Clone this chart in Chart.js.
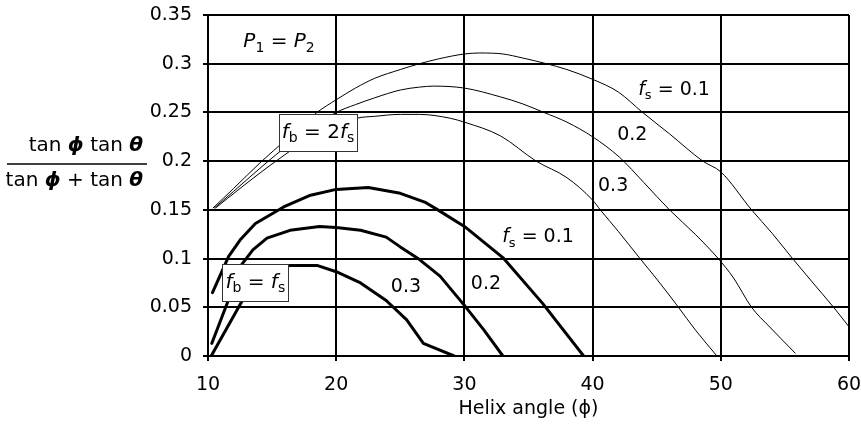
<!DOCTYPE html>
<html>
<head>
<meta charset="utf-8">
<script src="https://cdn.jsdelivr.net/npm/chart.js@4"></script>
<style>
  html, body { margin: 0; padding: 0; background: #fff; }
  canvas { display: block; }
</style>
</head>
<body>
<canvas id="chart" width="861" height="426"></canvas>
<script>
// Axis ranges and ticks
const xTicks = [10, 20, 30, 40, 50, 60];
const yTicks = [0, 0.05, 0.1, 0.15, 0.2, 0.25, 0.3, 0.35];

// fb = 2fs (thin curves)
const thin01X = [10.4, 12, 14.2, 16, 18.5, 20, 21.5, 23, 25, 26.5, 28, 30, 31.2, 33, 34.5, 36.4, 38, 40, 42, 43.9, 46, 48.6, 50, 52.4, 54, 55.6, 57, 58.8, 60];
const thin01Y = [0.152, 0.172, 0.2, 0.221, 0.25, 0.263, 0.275, 0.285, 0.294, 0.3, 0.305, 0.31, 0.311, 0.31, 0.306, 0.3, 0.294, 0.284, 0.271, 0.25, 0.228, 0.2, 0.189, 0.15, 0.126, 0.1, 0.078, 0.05, 0.03];

const thin02X = [10.5, 12, 14.7, 17, 20, 21.5, 23, 25, 26.5, 27.6, 30, 32.8, 34.5, 36.2, 38, 40, 42.1, 44, 46, 48, 49.8, 51, 52.4, 53.8, 55.8];
const thin02Y = [0.152, 0.169, 0.2, 0.224, 0.25, 0.258, 0.265, 0.273, 0.276, 0.277, 0.275, 0.266, 0.259, 0.25, 0.24, 0.225, 0.204, 0.178, 0.15, 0.125, 0.1, 0.08, 0.05, 0.03, 0.003];

const thin03X = [10.6, 12.5, 15.3, 18, 21.6, 23, 25, 26.5, 28.9, 30, 32.8, 35.6, 38, 40, 40.6, 42, 43.7, 45, 46.7, 48, 49.7];
const thin03Y = [0.152, 0.172, 0.2, 0.224, 0.244, 0.246, 0.248, 0.248, 0.244, 0.24, 0.226, 0.2, 0.183, 0.16, 0.15, 0.128, 0.1, 0.079, 0.05, 0.027, 0];

// fb = fs (thick curves)
const thick01X = [10.35, 11.6, 12.5, 13.7, 15.9, 18, 20, 22.5, 25, 26.9, 27.8, 30, 33, 36.1, 39.3];
const thick01Y = [0.065, 0.102, 0.119, 0.136, 0.153, 0.165, 0.171, 0.173, 0.167, 0.158, 0.151, 0.133, 0.101, 0.054, 0];

const thick02X = [10.3, 11.7, 12.4, 13.5, 14.6, 16.4, 18.7, 20, 21.9, 23.9, 25, 26.5, 28.1, 30, 31.5, 33];
const thick02Y = [0.013, 0.061, 0.09, 0.109, 0.121, 0.129, 0.133, 0.132, 0.129, 0.122, 0.112, 0.099, 0.082, 0.052, 0.027, 0];

const thick03X = [10.25, 12.9, 15.6, 16.4, 18.5, 20, 21.9, 23.9, 25.5, 26.8, 29.2];
const thick03Y = [0, 0.062, 0.09, 0.093, 0.093, 0.0865, 0.075, 0.057, 0.037, 0.013, 0];

const FONT = '"DejaVu Sans", sans-serif';

// text pieces: [text, style] where style is 'i' (italic) or 's' (subscript)
const notes = [
  { x: 15.54, y: 0.3224, size: 20, parts: [['P', 'i'], ['1', 's'], [' = '], ['P', 'i'], ['2', 's']] },
  { x: 46.35, y: 0.273, size: 19, parts: [['f', 'i'], ['s', 's'], [' = 0.1']] },
  { x: 43.1, y: 0.2264, size: 19, parts: [['0.2']] },
  { x: 41.6, y: 0.174, size: 19, parts: [['0.3']] },
  { x: 35.74, y: 0.1217, size: 19, parts: [['f', 'i'], ['s', 's'], [' = 0.1']] },
  { x: 31.68, y: 0.0734, size: 19, parts: [['0.2']] },
  { x: 25.44, y: 0.0708, size: 19, parts: [['0.3']] },
  { x: 18.58, y: 0.2295, size: 20, box: true, parts: [['f', 'i'], ['b', 's'], [' = 2'], ['f', 'i'], ['s', 's']] },
  { x: 13.69, y: 0.0753, size: 20, box: true, parts: [['f', 'i'], ['b', 's'], [' = '], ['f', 'i'], ['s', 's']] }
];

function toPoints(xs, ys) {
  return xs.map((x, i) => ({ x: x, y: ys[i] }));
}

function series(xs, ys, width, smooth) {
  return {
    data: toPoints(xs, ys),
    showLine: true,
    borderColor: '#000',
    borderWidth: width,
    pointRadius: 0,
    fill: false,
    tension: 0,
    cubicInterpolationMode: smooth ? 'monotone' : 'default',
    borderJoinStyle: 'round',
    borderCapStyle: 'round'
  };
}

function partFont(p, size) {
  const s = p[1] === 's' ? Math.round(size * 0.7) : size;
  return (p[1] === 'i' ? 'italic ' : '') + s + 'px ' + FONT;
}

function measureRich(ctx, parts, size) {
  let total = 0;
  parts.forEach(p => {
    ctx.font = partFont(p, size);
    total += ctx.measureText(p[0]).width;
  });
  return total;
}

// draw a line of mixed italic / subscript text centred on (cx, cy)
function drawRich(ctx, cx, cy, parts, size) {
  let x = cx - measureRich(ctx, parts, size) / 2;
  ctx.textAlign = 'left';
  ctx.textBaseline = 'middle';
  parts.forEach(p => {
    ctx.font = partFont(p, size);
    ctx.fillText(p[0], x, cy + (p[1] === 's' ? size * 0.3 : 0));
    x += ctx.measureText(p[0]).width;
  });
}

const notesPlugin = {
  id: 'notes',
  afterDatasetsDraw(chart) {
    const ctx = chart.ctx;
    const xs = chart.scales.x, ys = chart.scales.y;
    ctx.save();
    ctx.fillStyle = '#000';
    notes.forEach(n => {
      const cx = xs.getPixelForValue(n.x);
      const cy = ys.getPixelForValue(n.y);
      if (n.box) {
        const w = Math.round(measureRich(ctx, n.parts, n.size) + 6);
        const h = 37;
        const bx = Math.round(cx - w / 2), by = Math.round(cy - h / 2);
        ctx.fillStyle = '#fff';
        ctx.fillRect(bx, by, w, h);
        ctx.strokeStyle = '#333';
        ctx.lineWidth = 1;
        ctx.strokeRect(bx + 0.5, by + 0.5, w, h);
        ctx.fillStyle = '#000';
      }
      drawRich(ctx, cx, cy, n.parts, n.size);
    });

    // y axis title as a fraction
    const right = chart.chartArea.left - 65;
    ctx.textAlign = 'right';
    ctx.textBaseline = 'middle';
    const numY = 146, denY = 181, barY = 164;
    const drawParts = (parts, y) => {
      let x = right;
      for (let i = parts.length - 1; i >= 0; i--) {
        ctx.font = (parts[i][1] === 'i' ? 'italic bold ' : '') + '20px ' + FONT;
        ctx.fillText(parts[i][0], x, y);
        x -= ctx.measureText(parts[i][0]).width;
      }
    };
    drawParts([['tan '], ['\u03D5', 'i'], [' tan '], ['\u03B8', 'i']], numY);
    drawParts([['tan '], ['\u03D5', 'i'], [' + tan '], ['\u03B8', 'i']], denY);
    ctx.beginPath();
    ctx.moveTo(7, barY);
    ctx.lineTo(right + 4, barY);
    ctx.lineWidth = 1.5;
    ctx.strokeStyle = '#000';
    ctx.stroke();
    ctx.restore();
  }
};

new Chart(document.getElementById('chart'), {
  type: 'scatter',
  data: {
    datasets: [
      series(thin01X, thin01Y, 1, true),
      series(thin02X, thin02Y, 1, true),
      series(thin03X, thin03Y, 1, true),
      series(thick01X, thick01Y, 3, false),
      series(thick02X, thick02Y, 3, false),
      series(thick03X, thick03Y, 3, false)
    ]
  },
  options: {
    responsive: false,
    animation: false,
    devicePixelRatio: 1,
    layout: { padding: 0 },
    plugins: {
      legend: { display: false },
      tooltip: { enabled: false }
    },
    scales: {
      x: {
        type: 'linear',
        min: xTicks[0],
        max: xTicks[xTicks.length - 1],
        afterBuildTicks: s => { s.ticks = xTicks.map(v => ({ value: v })); },
        afterFit: s => { s.height = 70; s.paddingLeft = 0; s.paddingRight = 12; },
        ticks: {
          color: '#000',
          font: { family: FONT, size: 19 },
          padding: 13,
          maxRotation: 0
        },
        grid: { color: '#000', lineWidth: 2, tickLength: 5 },
        border: { color: '#000', width: 2 },
        title: {
          display: true,
          text: 'Helix angle (\u03D5)',
          color: '#000',
          font: { family: FONT, size: 19 },
          padding: { top: 0, bottom: 6 }
        }
      },
      y: {
        min: yTicks[0],
        max: yTicks[yTicks.length - 1],
        afterBuildTicks: s => { s.ticks = yTicks.map(v => ({ value: v })); },
        afterFit: s => { s.width = 208; s.paddingTop = 15; s.paddingBottom = 0; },
        ticks: {
          color: '#000',
          font: { family: FONT, size: 19 },
          padding: 11,
          callback: v => String(+v.toFixed(2))
        },
        grid: { color: '#000', lineWidth: 2, tickLength: 5 },
        border: { color: '#000', width: 2 }
      }
    }
  },
  plugins: [notesPlugin]
});
</script>
</body>
</html>
